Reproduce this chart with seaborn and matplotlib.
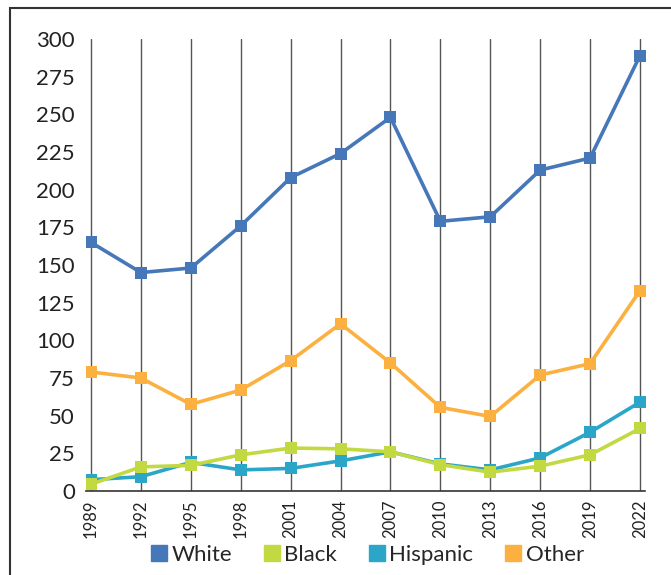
import numpy as np
import pandas as pd
import matplotlib
matplotlib.use("Agg")
from matplotlib import pyplot as plt
from matplotlib.lines import Line2D
from matplotlib.patches import Rectangle
import seaborn as sns

years = [1989, 1992, 1995, 1998, 2001, 2004, 2007, 2010, 2013, 2016, 2019, 2022]
white = [165, 145, 148, 176, 208, 224, 248, 179, 182, 213, 221, 289]
black = [4.5, 16, 17, 24, 28.5, 28, 26, 17.5, 12.5, 16.5, 24, 41.5]
hispanic = [7.5, 9.5, 19, 14, 15, 20, 26, 18, 14, 22, 39, 59]
other = [79, 75, 57.5, 67, 86.5, 111, 85, 55.5, 49.5, 77, 84.5, 133]

groups = ["White", "Black", "Hispanic", "Other"]
palette = {"White": "#4677b8", "Black": "#c2d942", "Hispanic": "#2ba6c8", "Other": "#fbb040"}

rows = []
for name, vals in zip(groups, [white, black, hispanic, other]):
    for yr, v in zip(years, vals):
        rows.append({"Year": yr, "Value": v, "Group": name})
df = pd.DataFrame(rows)

sns.set_style("white")
plt.rcParams['font.family'] = ['Lato', 'DejaVu Sans']

fig = plt.figure(figsize=(6.71, 5.75), dpi=100)
ax = fig.add_axes([86/671, 1 - 491/575, 559/671, 452/575])

# draw order: white, other, hispanic, black on top
for name in ["White", "Other", "Hispanic", "Black"]:
    sns.lineplot(data=df[df.Group == name], x="Year", y="Value", color=palette[name],
                 marker="s", markersize=8.5, markeredgewidth=0, linewidth=2.6, ax=ax, zorder=3)

ax.set_xlim(1988.7, 2022.3)
ax.set_ylim(0, 300)
ax.set_xticks(years)
ax.set_xticklabels([str(y) for y in years], rotation=90, fontsize=12, color="#222222")
ax.set_yticks(range(0, 301, 25))
ax.tick_params(axis="y", labelsize=16, length=0, pad=8, labelcolor="#222222")
ax.tick_params(axis="x", length=0, pad=6)
ax.xaxis.grid(True, color="#555555", linewidth=1)
ax.yaxis.grid(False)
for s in ["left", "top", "right"]:
    ax.spines[s].set_visible(False)
ax.spines["bottom"].set_color("#333333")
ax.spines["bottom"].set_linewidth(1.2)
ax.set_xlabel("")
ax.set_ylabel("")
if ax.get_legend():
    ax.get_legend().remove()

handles = [Line2D([], [], color=palette[g], marker="s", linestyle="none", markersize=12) for g in groups]
fig.legend(handles, groups, loc="center", bbox_to_anchor=(366/671, 1 - 555/575), ncol=4,
           frameon=False, fontsize=16, handletextpad=0.05, columnspacing=1.3, handlelength=1.0)

fig.patches.append(Rectangle((10/671, -0.1), 1.2, 1 - 8/575 + 0.1, transform=fig.transFigure,
                             fill=False, edgecolor="#333333", linewidth=1.5))

plt.savefig("out.png", dpi=100)
